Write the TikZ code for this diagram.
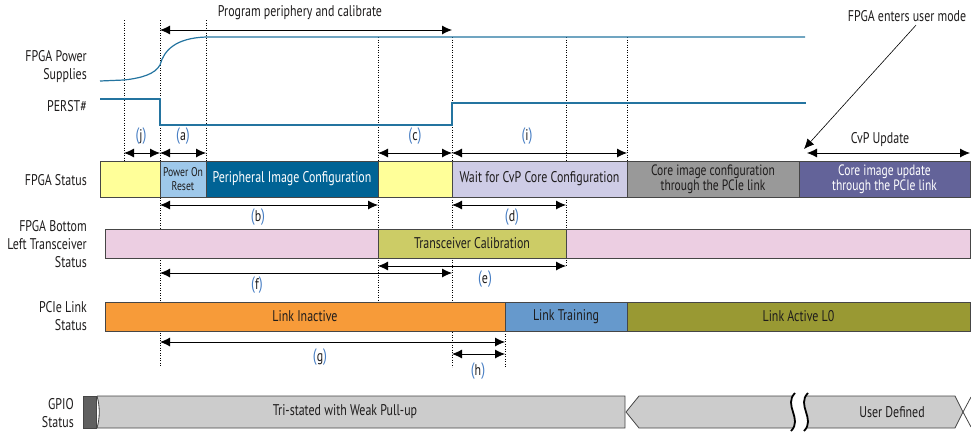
\documentclass[tikz,border=0pt]{standalone}
\usepackage{fontspec}
\setmainfont[FakeStretch=0.77]{PT Sans}
\usepackage{xcolor}
\usepackage{tikz}
\usetikzlibrary{arrows.meta}

\definecolor{txt}{RGB}{30,28,28}
\definecolor{wavecol}{RGB}{36,116,160}
\definecolor{barline}{RGB}{70,70,70}
\definecolor{brkblue}{RGB}{70,125,195}
\definecolor{statyel}{RGB}{255,255,153}
\definecolor{porblue}{RGB}{158,200,234}
\definecolor{peri}{RGB}{0,99,149}
\definecolor{waitlav}{RGB}{206,204,230}
\definecolor{coregray}{RGB}{153,153,153}
\definecolor{updpurp}{RGB}{99,99,153}
\definecolor{pinkbar}{RGB}{236,206,226}
\definecolor{calolive}{RGB}{204,204,102}
\definecolor{lkorange}{RGB}{247,155,57}
\definecolor{lkblue}{RGB}{102,153,204}
\definecolor{lkolive}{RGB}{153,153,51}
\definecolor{gpiodark}{RGB}{96,96,96}
\definecolor{gpiolight}{RGB}{204,204,204}

\newcommand{\seg}[8][]{\node[segbox,fill=#3,minimum width={(#5-#4)*1pt},minimum height={(#7-#6)*1pt},anchor=north west,#1] (#2) at (#4,#6) {#8}}
\newcommand{\brk}[1]{{\fontsize{18}{18}\selectfont\textcolor{brkblue}{(}}#1{\fontsize{18}{18}\selectfont\textcolor{brkblue}{)}}}

\begin{document}
\begin{tikzpicture}[x=1pt,y=-1pt,font=\fontsize{15.5}{18}\selectfont,text=txt,
    segbox/.style={draw=barline,line width=0.8pt,inner sep=0pt,outer sep=0pt,align=center},
    lbl/.style={anchor=east,align=right,inner sep=0pt},
    dim/.style={{Latex[length=10pt,width=9pt]}-{Latex[length=10pt,width=9pt]},line width=0.8pt},
    ptr/.style={-{Latex[length=10pt,width=9pt]},line width=0.6pt},
    guide/.style={dotted,line width=0.5pt},
    sig/.style={draw=wavecol,line width=1.2pt}]
    \useasboundingbox (0,0) rectangle (971,432);

    \coordinate (tj) at (124,0);
    \coordinate (tp) at (160,0);
    \coordinate (tq) at (206,0);
    \coordinate (tr) at (378,0);
    \coordinate (ts) at (452,0);
    \coordinate (tu) at (505,0);
    \coordinate (tv) at (566,0);
    \coordinate (tw) at (627,0);
    \coordinate (tx) at (807,0);
    \coordinate (tz) at (970,0);
    \coordinate (yP) at (0,30);
    \coordinate (yT) at (0,153);
    \coordinate (yB) at (0,205);
    \coordinate (yE) at (0,266);
    \coordinate (yF) at (0,273);
    \coordinate (yG) at (0,342);
    \coordinate (yH) at (0,354);
    \coordinate (ucv) at (804,149);

    \foreach \x/\a/\b in {124/20/161,160/20/367,206/20/161,378/37/300,452/37/367,566/37/266,627/37/161,505/331/367}
        \draw[guide] (\x,\a) -- (\x,\b);

    \draw[sig] (100,81) -- (124,80) .. controls (142,78) and (155,74) .. (160,65)
        .. controls (164,50) and (176,38) .. (206,37) -- (805,37);
    \draw[sig] (100,99) -- (160,99) -- (160,125) -- (452,125) -- (452,103) -- (806,103);

    \node[lbl] (nps) at (87,67) {FPGA Power\\Supplies};
    \node[lbl] (npr) at (87,106) {PERST\#};
    \node[lbl] (nfs) at (87,180) {FPGA Status};
    \node[lbl] (ntr) at (87,244) {FPGA Bottom\\Left Transceiver\\Status};
    \node[lbl] (nlk) at (87,316) {PCIe Link\\Status};
    \node[lbl] (ngp) at (74,413) {GPIO\\Status};

    \seg{fsa}{statyel}{100}{160}{161}{197}{};
    \seg[font=\fontsize{12.6}{14}\selectfont]{fsb}{porblue}{160}{206}{161}{197}{Power On\\Reset};
    \seg[text=white]{fsc}{peri}{206}{378}{161}{197}{Peripheral Image Configuration};
    \seg{fsd}{statyel}{378}{452}{161}{197}{};
    \seg{fse}{waitlav}{452}{627}{161}{197}{Wait for CvP Core Configuration};
    \seg[font=\fontsize{15}{15}\selectfont]{fsf}{coregray}{627}{799}{161}{197}{Core image configuration\\through the PCIe link};
    \seg[font=\fontsize{15}{15}\selectfont,text=white]{fsg}{updpurp}{799}{970}{161}{197}{Core image update\\through the PCIe link};

    \seg{trx}{pinkbar}{105}{970}{229}{258}{};
    \seg{trc}{calolive}{378}{566}{229}{258}{Transceiver Calibration};

    \seg{lka}{lkorange}{105}{505}{302}{331}{Link Inactive};
    \seg{lkb}{lkblue}{505}{627}{302}{331}{Link Training};
    \seg{lkc}{lkolive}{627}{970}{302}{331}{Link Active L0};

    % GPIO status
    \filldraw[fill=gpiodark,draw=barline,line width=0.8pt] (83,396) rectangle (96,428);
    \filldraw[fill=gpiolight,draw=barline,line width=0.8pt] (97,396) -- (625,396) -- (625,428) -- (97,428)
        .. controls (100,418) and (100,406) .. (97,396);
    \filldraw[fill=gpiolight,draw=barline,line width=0.8pt] (639,396) -- (955,396) -- (963,412) -- (955,428)
        -- (639,428) -- (626,412) -- cycle;
    \draw[barline,line width=0.8pt] (963,412) -- (971,397) (963,412) -- (971,427);
    \fill[white] (795,393) .. controls (783,405) and (803,419) .. (791,431) -- (804,431)
        .. controls (816,419) and (796,405) .. (808,393) -- cycle;
    \draw[line width=1.8pt] (795,393) .. controls (783,405) and (803,419) .. (791,431);
    \draw[line width=1.8pt] (808,393) .. controls (796,405) and (816,419) .. (804,431);
    \node (ntri) at (345,412) {Tri-stated with Weak Pull-up};
    \node (nusr) at (892,412) {User Defined};

    \node (nprog) at (300,13) {Program periphery and calibrate};
    \node (numode) at (907,16) {FPGA enters user mode};
    \node (ncvp) at (880,140) {CvP Update};

    \draw[dim] (tp|-yP) -- (ts|-yP);
    \draw[dim] (tj|-yT) -- (tp|-yT);
    \draw[dim] (tp|-yT) -- (tq|-yT);
    \draw[dim] (tr|-yT) -- (ts|-yT);
    \draw[dim] (ts|-yT) -- (tw|-yT);
    \draw[dim] (tx|-yT) -- (tz|-yT);
    \draw[ptr] ([xshift=9pt]numode.south) -- (ucv);
    \draw[dim] (tp|-yB) -- (tr|-yB);
    \draw[dim] (ts|-yB) -- (tv|-yB);
    \draw[dim] (tr|-yE) -- (tv|-yE);
    \draw[dim] (tp|-yF) -- (ts|-yF);
    \draw[dim] (tp|-yG) -- (tu|-yG);
    \draw[dim] (ts|-yH) -- (tu|-yH);

    \node (lj) at (141,136) {\brk{j}};
    \node (la) at (183,136) {\brk{a}};
    \node (lc) at (415,136) {\brk{c}};
    \node (li) at (527,136) {\brk{i}};
    \node (lb) at (258,217) {\brk{b}};
    \node (ld) at (512,217) {\brk{d}};
    \node (le) at (485,279) {\brk{e}};
    \node (lf) at (257,285) {\brk{f}};
    \node (lg) at (320,357) {\brk{g}};
    \node (lh) at (478,371) {\brk{h}};
\end{tikzpicture}
\end{document}
